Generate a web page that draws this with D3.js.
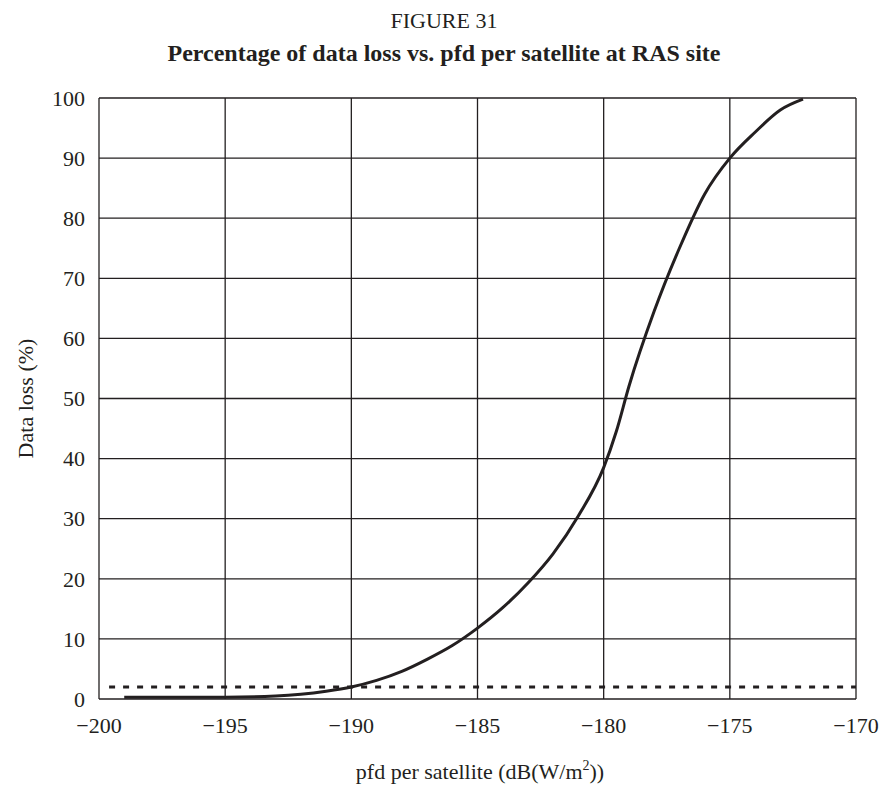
<!DOCTYPE html>
<html>
<head>
<meta charset="utf-8">
<script src="https://cdnjs.cloudflare.com/ajax/libs/d3/7.8.5/d3.min.js"></script>
<style>
  body { margin: 0; background: #fff; }
  svg text { font-family: "Liberation Serif", "Times New Roman", serif; fill: #231f20; }
</style>
</head>
<body>
<div id="chart"></div>
<script>
// pfd per satellite, dB(W/m2)
var pfd = [-199, -195, -193, -192, -191, -190, -189, -188, -187, -186, -185, -184, -183, -182,
           -181, -180, -179.5, -179, -178, -177, -176, -175, -174, -173, -172.1];
// data loss, %
var dataLoss = [0.3, 0.3, 0.5, 0.8, 1.3, 2.0, 3.1, 4.6, 6.6, 8.9, 11.8, 15.2, 19.3, 24.2,
                30.5, 38.5, 44.5, 52, 64.5, 75, 84, 90, 94.3, 98, 99.8];
var threshold = 2;
var thresholdFrom = -199.6;
var xTicks = [-200, -195, -190, -185, -180, -175, -170];
var yTicks = [0, 10, 20, 30, 40, 50, 60, 70, 80, 90, 100];

var W = 880, H = 787;
var m = {left: 99, right: 24, top: 98, bottom: 88};
var ink = "#231f20";

var svg = d3.select("#chart").append("svg")
    .attr("width", W)
    .attr("height", H);

var x = d3.scaleLinear().domain([-200, -170]).range([m.left, W - m.right]);
var y = d3.scaleLinear().domain([0, 100]).range([H - m.bottom, m.top]);

svg.append("text")
    .attr("x", 444).attr("y", 28)
    .attr("text-anchor", "middle")
    .style("font-size", "22px")
    .text("FIGURE 31");

svg.append("text")
    .attr("x", 444).attr("y", 61)
    .attr("text-anchor", "middle")
    .style("font-size", "24px")
    .style("font-weight", "bold")
    .text("Percentage of data loss vs. pfd per satellite at RAS site");

// grid
svg.append("g").selectAll("line")
    .data(xTicks)
    .enter().append("line")
    .attr("x1", function(d) { return x(d); })
    .attr("x2", function(d) { return x(d); })
    .attr("y1", y(0)).attr("y2", y(100))
    .attr("stroke", ink).attr("stroke-width", 1.3);

svg.append("g").selectAll("line")
    .data(yTicks)
    .enter().append("line")
    .attr("x1", x(-200)).attr("x2", x(-170))
    .attr("y1", function(d) { return y(d); })
    .attr("y2", function(d) { return y(d); })
    .attr("stroke", ink).attr("stroke-width", 1.3);

// tick labels
svg.append("g").selectAll("text")
    .data(yTicks)
    .enter().append("text")
    .attr("x", m.left - 14)
    .attr("y", function(d) { return y(d); })
    .attr("dy", "0.35em")
    .attr("text-anchor", "end")
    .style("font-size", "22px")
    .text(function(d) { return d; });

svg.append("g").selectAll("text")
    .data(xTicks)
    .enter().append("text")
    .attr("x", function(d) { return x(d); })
    .attr("y", y(0) + 34)
    .attr("text-anchor", "middle")
    .style("font-size", "22px")
    .text(function(d) { return "\u2212" + Math.abs(d); });

// axis titles
svg.append("text")
    .attr("transform", "translate(33," + ((y(0) + y(100)) / 2) + ") rotate(-90)")
    .attr("text-anchor", "middle")
    .style("font-size", "22px")
    .text("Data loss (%)");

var xt = svg.append("text")
    .attr("x", 480).attr("y", 779)
    .attr("text-anchor", "middle")
    .style("font-size", "22px");
xt.append("tspan").text("pfd per satellite (dB(W/m");
xt.append("tspan").attr("dy", -9).style("font-size", "14px").text("2");
xt.append("tspan").attr("dy", 9).text("))");

// threshold line
svg.append("line")
    .attr("x1", x(thresholdFrom)).attr("x2", x(-170))
    .attr("y1", y(threshold)).attr("y2", y(threshold))
    .attr("stroke", ink).attr("stroke-width", 3)
    .attr("stroke-dasharray", "6,8");

// curve
var pts = pfd.map(function(d, i) { return [d, dataLoss[i]]; });
var line = d3.line()
    .x(function(d) { return x(d[0]); })
    .y(function(d) { return y(d[1]); })
    .curve(d3.curveMonotoneX);

svg.append("path")
    .datum(pts)
    .attr("d", line)
    .attr("fill", "none")
    .attr("stroke", ink)
    .attr("stroke-width", 3);
</script>
</body>
</html>
